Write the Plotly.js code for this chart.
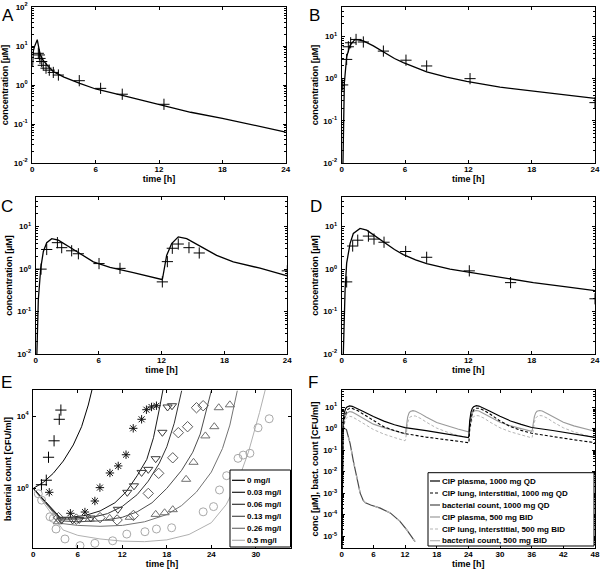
<!DOCTYPE html>
<html><head><meta charset="utf-8">
<script src="https://cdn.plot.ly/plotly-3.0.1.min.js"></script>
<style>html,body{margin:0;padding:0;background:#fff}#chart{width:602px;height:569px}</style>
</head><body><div id="chart"></div>
<script>
// ---------------- DATA ----------------
// Panel A: concentration [µM] vs time [h]
const aLineT = [0.02,0.1,0.2,0.35,0.47,0.6,0.75,1.0,1.5,2,3,4.5,6,9,12,15,18,21,24];
const aLineC = [3.0,7.5,9.5,12.5,14.5,9.5,6.0,4.4,3.0,2.2,1.6,1.1,0.79,0.5,0.31,0.2,0.14,0.095,0.062];
const aObsT = [0.57,0.67,0.73,0.89,1.04,1.30,1.61,1.99,2.47,4.45,6.47,8.52,12.47];
const aObsC = [6.5,5.9,4.8,4.0,3.2,2.7,2.4,2.1,1.8,1.29,0.82,0.58,0.32];
// Panel B
const bLineT = [0.1,0.18,0.25,0.47,0.79,1.26,2.05,3.0,3.95,5.0,5.84,7.0,8.05,9.95,11.84,15,18.2,21.3,24];
const bLineC = [0.005,0.05,0.78,3.3,6.2,8.5,7.9,6.0,4.4,3.0,2.4,1.8,1.45,1.08,0.86,0.63,0.5,0.41,0.34];
const bObsT = [0.09,0.47,0.63,0.85,1.36,2.05,3.95,6.09,8.05,12.16,24];
const bObsC = [0.71,2.86,5.7,7.1,8.5,7.4,4.5,2.74,2.0,1.0,0.27];
// Panel C
const cLineT = [0.08,0.1,0.25,0.48,0.73,1.05,1.53,2.16,2.96,3.91,5.5,7.09,9.31,12.02,12.1,12.2,12.49,12.97,13.6,14.4,15.67,17.26,18.85,21.4,24];
const cLineC = [0.005,0.01,0.19,1.05,2.6,4.2,5.2,4.8,3.7,2.6,1.48,1.1,0.83,0.57,0.6,0.8,2.1,4.0,5.75,5.2,3.5,2.1,1.48,1.05,0.69];
const cObsT = [0.51,1.05,2.07,2.48,3.43,4.07,6.04,8.04,12.08,12.56,13.03,13.6,14.62,15.6,24];
const cObsC = [1.0,2.9,4.2,3.2,2.7,2.3,1.35,1.04,0.50,1.5,3.1,3.9,3.2,2.4,0.91];
// Panel D
const dLineT = [0.12,0.25,0.32,0.47,0.79,1.1,1.74,2.37,3.3,4.26,5.0,5.84,7.0,8.05,10.26,12.16,15,18.16,21.3,24];
const dLineC = [0.005,0.1,0.32,1.38,3.98,6.9,9.1,8.3,5.75,3.9,2.9,2.2,1.65,1.35,1.0,0.84,0.65,0.48,0.38,0.31];
const dObsT = [0.47,1.04,1.52,2.53,3.06,4.01,6.06,8.05,12.09,16.0,24];
const dObsC = [0.5,3.5,4.8,6.0,5.1,4.3,2.6,1.9,0.91,0.48,0.20];

// Panel E: log10 bacterial count (relative) vs time [h]
const eConcLabels = ['0 mg/l','0.03 mg/l','0.06 mg/l','0.13 mg/l','0.26 mg/l','0.5 mg/l'];
const e0T = [0,1.35,2.69,4.04,5.39,6.51,7.41,7.86,8.3];
const e0L = [0,0.33,0.83,1.51,2.40,3.41,4.61,5.44,6.1];
const e003T = [0,3.6,5,7,9,11,12.5,14,15.3,16.2,17,17.5];
const e003L = [0,-1.6,-1.6,-1.5,-1.25,-0.8,-0.2,0.7,1.6,2.8,4.4,5.5];
const e006T = [0,3.7,6,8,10,12,14,15.5,17,18,19,20];
const e006L = [0,-1.7,-1.7,-1.6,-1.4,-1.0,-0.35,0.4,1.4,2.3,3.6,5.4];
const e013T = [0,3.8,6,9,12,14,16,18,20,21.5,22.5,23.3,24];
const e013L = [0,-1.8,-1.85,-1.8,-1.6,-1.3,-0.8,0.0,1.0,2.0,3.0,4.2,5.4];
const e026T = [0,3.9,6,9,12,15,18,20,22,24,25.5,26.5,27.5];
const e026L = [0,-1.95,-2.05,-2.1,-2.05,-1.85,-1.45,-0.95,-0.2,0.9,2.2,3.5,5.4];
const e05T = [0,4,6,9,12,15,18,21,24,26,27.5,29,30.5,31.3];
const e05L = [0,-2.3,-2.6,-2.8,-2.92,-2.95,-2.85,-2.55,-1.9,-0.9,0.3,2.0,4.2,5.5];
const ePlusT = [1.1,1.75,2.05,2.8,3.5,3.72];
const ePlusL = [0.2,0.45,1.72,2.63,3.82,4.33];
const eStarT = [2.15,5.0,6.96,8.3,8.98,10.33,11.45,12.5,13.47,14.6,15.25,15.94,16.6];
const eStarL = [-0.22,-1.38,-1.31,-0.70,0.04,0.85,1.24,1.86,3.32,3.82,4.35,4.5,4.57];
const eTdT = [3.8,5.3,6.2,7.75,11.4,12.67,13.57,14.6,15.5,16.5,17.4,18.1,18.7];
const eTdL = [-1.75,-1.75,-1.72,-1.64,-1.16,-0.22,0.14,0.88,1.05,1.64,3.1,4.5,4.57];
const eDiT = [3.4,5.8,9.0,11.3,13.5,15.5,16.9,18.8,19.55,20.8,22.0,22.9];
const eDiL = [-1.62,-1.7,-1.62,-1.75,-1.5,-0.28,0.83,1.69,3.08,3.41,4.46,4.57];
const eTuT = [3.3,7.6,10.3,13.0,16.5,17.7,18.8,20.6,21.6,23.2,24.4,25.0,26.5];
const eTuL = [-1.85,-1.7,-1.66,-1.6,-1.44,-1.35,-1.18,0.5,1.44,2.9,3.41,4.46,4.62];
const eCiT = [0.67,1.12,2.25,2.7,3.06,4.27,6.3,8.3,10.7,12.6,15.05,16.6,18.65,22.9,24.3,25.1,26.06,27.6,28.3,29.2,30.3,31.8];
const eCiL = [-0.3,-0.65,-1.57,-1.66,-2.25,-2.8,-3.17,-3.04,-2.9,-2.53,-2.4,-2.25,-2.18,-1.3,-1.01,-0.09,0.70,1.66,1.84,1.94,3.35,3.85];

// Panel F
const fLabels = ['CIP plasma, 1000 mg QD','CIP lung, interstitial, 1000 mg QD','bacterial count, 1000 mg QD','CIP plasma, 500 mg BID','CIP lung, interstitial, 500 mg BID','bacterial count, 500 mg BID'];
const fQdT = [0,0.1,0.25,0.5,0.75,1,1.5,2,3,4,6,8,10,12,16,20,24,24.1,24.25,24.5,24.75,25,25.5,26,27,28,30,32,34,36,40,44,48];
const fQdPlasma = [1e-7,0.3,2.0,5.5,8.5,10,11.2,10.8,8.6,6.3,3.6,2.2,1.5,1.1,0.8,0.55,0.38,0.45,2.2,5.8,8.8,10.3,11.5,11.1,8.8,6.5,3.7,2.25,1.55,1.12,0.81,0.56,0.39];
const fQdLung = [1e-7,0.05,0.8,3.0,5.5,7.2,8.7,8.6,6.8,4.8,2.2,1.2,0.8,0.58,0.4,0.29,0.21,0.22,0.9,3.1,5.6,7.3,8.8,8.7,6.9,4.9,2.25,1.22,0.82,0.6,0.41,0.3,0.22];
const fBidT = [0,0.1,0.25,0.5,0.75,1,1.5,2,3,4,6,8,10,12,12.1,12.25,12.5,12.75,13,13.5,14,15,16,18,20,22,24,24.1,24.25,24.5,24.75,25,25.5,26,27,28,30,32,34,36,36.1,36.25,36.5,36.75,37,37.5,38,39,40,42,44,46,48];
const fBidPlasma = [1e-7,0.15,1.0,2.8,4.3,5.2,6.2,5.8,4.3,3.0,1.6,1.1,0.8,0.57,0.65,1.5,3.4,5.2,6.2,6.8,6.4,4.8,3.4,1.9,1.3,0.95,0.7,0.78,1.6,3.5,5.3,6.3,6.9,6.5,4.9,3.5,1.95,1.33,0.98,0.74,0.82,1.6,3.5,5.3,6.3,6.9,6.5,4.9,3.5,1.95,1.33,0.99,0.75];
const fBidLung = [1e-7,0.03,0.4,1.6,2.7,3.3,3.7,3.5,2.6,1.8,0.9,0.55,0.38,0.27,0.29,0.7,1.8,2.9,3.5,3.9,3.8,2.9,2.0,1.05,0.68,0.48,0.35,0.37,0.75,1.9,3.0,3.6,4.0,3.9,3.0,2.05,1.08,0.7,0.5,0.37,0.39,0.76,1.9,3.0,3.6,4.0,3.9,3.0,2.05,1.08,0.7,0.5,0.37];
const fBactQdT = [0,0.5,0.9,1.2,1.6,2.2,2.8,3.5,4.1,4.5,5.5,7.3,9.2,11,12.3,13.9];
const fBactQdL = [0.0,0.01,-0.05,-0.3,-0.7,-1.5,-2.25,-3.0,-3.35,-3.45,-3.55,-3.7,-3.92,-4.3,-4.7,-5.25];
const fBactBidT = [0,0.5,0.9,1.2,1.6,2.2,2.8,3.5,4.1,4.5,5.5,7.3,9.2,11,12.3,13.9];
const fBactBidL = [0.0,0.01,-0.05,-0.3,-0.7,-1.5,-2.25,-3.0,-3.35,-3.45,-3.55,-3.7,-3.92,-4.3,-4.7,-5.25];

// -------------- helpers ---------------
const W = 602, H = 569;
const pow10 = a => a.map(v => Math.pow(10, v));
const xd = (a, b) => [a / W, b / W];
const yd = (t, b) => [1 - b / H, 1 - t / H];
const FONT = 'Liberation Sans, Arial, sans-serif';
const tickFont = {family: FONT, size: 8, color: '#000', weight: 'bold'};
const titleFont = {family: FONT, size: 9, color: '#000', weight: 'bold'};
const sup = e => '10<sup>' + e + '</sup>';
// minor log tick positions (2..9 x each decade) for axis styling
function minorVals(lo, hi) {
  const v = [];
  for (let e = lo; e < hi; e++) for (let d = 2; d <= 9; d++) v.push(d * Math.pow(10, e));
  return v;
}

function xaxis(dom, anchor, range, tv, standoff) {
  return {domain: dom, anchor: anchor, range: range, tickvals: tv, ticktext: tv.map(String),
    showline: true, mirror: 'ticks', linecolor: '#000', linewidth: 1, ticks: 'inside', ticklen: 3,
    tickcolor: '#000', showgrid: false, zeroline: false, tickfont: tickFont, ticklabelstandoff: -2,
    title: {text: 'time [h]', font: titleFont, standoff: standoff}};
}
function yaxis(dom, anchor, range, exps, title, standoff, minorRange) {
  const ax = {domain: dom, anchor: anchor, type: 'log', range: range,
    tickvals: exps.map(e => Math.pow(10, e)), ticktext: exps.map(sup),
    showline: true, mirror: 'ticks', linecolor: '#000', linewidth: 1, ticks: 'inside', ticklen: 3,
    tickcolor: '#000', showgrid: false, zeroline: false, tickfont: tickFont, ticklabelstandoff: 2,
    title: {text: title, font: titleFont, standoff: standoff}};
  if (minorRange) ax.minor = {tickmode: 'array', tickvals: minorVals(minorRange[0], minorRange[1]),
    ticks: 'inside', ticklen: 2, tickcolor: '#000', showgrid: false};
  return ax;
}

const traces = [];
function line(x, y, xa, ya, color, width, dash) {
  traces.push({type: 'scatter', mode: 'lines', x: x, y: y, xaxis: xa, yaxis: ya,
    line: {color: color, width: width || 1.2, dash: dash || 'solid'}, showlegend: false, hoverinfo: 'skip'});
}
function pts(x, y, xa, ya, symbol, color, size) {
  traces.push({type: 'scatter', mode: 'markers', x: x, y: y, xaxis: xa, yaxis: ya,
    marker: {symbol: symbol, size: size || 8, color: color, line: {color: color, width: 1}},
    showlegend: false, hoverinfo: 'skip'});
}

// A-D
line(aLineT, aLineC, 'x', 'y', '#000', 1.3); pts(aObsT, aObsC, 'x', 'y', 'cross-thin-open', '#000', 8);
line(bLineT, bLineC, 'x2', 'y2', '#000', 1.3); pts(bObsT, bObsC, 'x2', 'y2', 'cross-thin-open', '#000', 8);
line(cLineT, cLineC, 'x3', 'y3', '#000', 1.3); pts(cObsT, cObsC, 'x3', 'y3', 'cross-thin-open', '#000', 8);
line(dLineT, dLineC, 'x4', 'y4', '#000', 1.3); pts(dObsT, dObsC, 'x4', 'y4', 'cross-thin-open', '#000', 8);

// E
const eColors = ['#000000', '#1a1a1a', '#333333', '#4d4d4d', '#737373', '#b0b0b0'];
line(e05T, pow10(e05L), 'x5', 'y5', eColors[5], 1);
line(e026T, pow10(e026L), 'x5', 'y5', eColors[4], 1);
line(e013T, pow10(e013L), 'x5', 'y5', eColors[3], 1);
line(e006T, pow10(e006L), 'x5', 'y5', eColors[2], 1);
line(e003T, pow10(e003L), 'x5', 'y5', eColors[1], 1);
line(e0T, pow10(e0L), 'x5', 'y5', eColors[0], 1);
pts(eCiT, pow10(eCiL), 'x5', 'y5', 'circle-open', '#a8a8a8', 8);
pts(eTuT, pow10(eTuL), 'x5', 'y5', 'triangle-up-open', '#6e6e6e', 8);
pts(eDiT, pow10(eDiL), 'x5', 'y5', 'diamond-open', '#5a5a5a', 8);
pts(eTdT, pow10(eTdL), 'x5', 'y5', 'triangle-down-open', '#3a3a3a', 8);
pts(eStarT, pow10(eStarL), 'x5', 'y5', 'asterisk-open', '#111', 7);
pts(ePlusT, pow10(ePlusL), 'x5', 'y5', 'cross-thin-open', '#000', 8);

// F
const fColors = ['#000000', '#000000', '#4a4a4a', '#9a9a9a', '#b5b5b5', '#b5b5b5'];
const fDash = ['solid', '3px,2px', 'solid', 'solid', '3px,2px', 'solid'];
line(fBidT, fBidLung, 'x6', 'y6', fColors[4], 1, '3px,2px');
line(fBidT, fBidPlasma, 'x6', 'y6', fColors[3], 1.1);
line(fQdT, fQdLung, 'x6', 'y6', fColors[1], 1.1, '3px,2px');
line(fQdT, fQdPlasma, 'x6', 'y6', fColors[0], 1.2);
line(fBactQdT, pow10(fBactQdL), 'x6', 'y6', fColors[2], 1.2);
line(fBactBidT, pow10(fBactBidL), 'x6', 'y6', fColors[5], 1.3, '4px,9px');

// -------------- layout ---------------
const layout = {
  width: W, height: H, margin: {l: 0, r: 0, t: 0, b: 0},
  paper_bgcolor: '#fff', plot_bgcolor: '#fff', showlegend: false,
  font: {family: FONT, color: '#000'},
  xaxis: xaxis(xd(32.3, 285.7), 'y', [0, 24], [0, 6, 12, 18, 24], 3),
  yaxis: yaxis(yd(7, 163), 'x', [-2, 2], [-2, -1, 0, 1, 2], 'concentration [µM]', 3, [-2, 2]),
  xaxis2: xaxis(xd(341.7, 595), 'y2', [0, 24], [0, 6, 12, 18, 24], 3),
  yaxis2: yaxis(yd(7, 163), 'x2', [-2, Math.log10(50)], [-2, -1, 0, 1], 'concentration [µM]', 3, [-2, 2]),
  xaxis3: xaxis(xd(35.7, 287.3), 'y3', [0, 24], [0, 6, 12, 18, 24], 3),
  yaxis3: yaxis(yd(197, 354), 'x3', [-2, Math.log10(50)], [-2, -1, 0, 1], 'concentration [µM]', 3, [-2, 2]),
  xaxis4: xaxis(xd(341.7, 595), 'y4', [0, 24], [0, 6, 12, 18, 24], 3),
  yaxis4: yaxis(yd(197, 354), 'x4', [-2, Math.log10(50)], [-2, -1, 0, 1], 'concentration [µM]', 3, [-2, 2]),
  xaxis5: xaxis(xd(33.3, 290.7), 'y5', [0, 34.7], [0, 6, 12, 18, 24, 30], 1),
  yaxis5: yaxis(yd(390, 548), 'x5', [-3.3, 5.44], [0, 4], 'bacterial count [CFU/ml]', 3, null),
  xaxis6: xaxis(xd(341.7, 595), 'y6', [0, 48], [0, 6, 12, 18, 24, 30, 36, 42, 48], 1),
  yaxis6: yaxis(yd(390, 548), 'x6', [-5.55, 1.79], [-5, -4, -3, -2, -1, 0, 1], 'conc [µM], bact. count [CFU/ml]', 3, [-6, 2]),
  annotations: [], shapes: []
};

// panel letters
const letters = [['A', 8, 15], ['B', 314, 15], ['C', 7, 206], ['D', 316, 206], ['E', 6, 382], ['F', 313, 382]];
letters.forEach(l => layout.annotations.push({text: l[0], xref: 'paper', yref: 'paper', x: l[1] / W, y: 1 - l[2] / H,
  xanchor: 'center', yanchor: 'middle', showarrow: false, font: {family: 'Liberation Sans, Arial, sans-serif', size: 17, color: '#000'}}));

// legends (drawn as shapes + text)
function legend(box, rowsY, lineX, textX, labels, colors, dashes) {
  layout.shapes.push({type: 'rect', xref: 'paper', yref: 'paper', x0: box[0] / W, x1: box[1] / W,
    y0: 1 - box[3] / H, y1: 1 - box[2] / H, line: {color: '#000', width: 1}, fillcolor: '#fff', layer: 'above'});
  labels.forEach((lab, i) => {
    layout.shapes.push({type: 'line', xref: 'paper', yref: 'paper', x0: lineX[0] / W, x1: lineX[1] / W,
      y0: 1 - rowsY[i] / H, y1: 1 - rowsY[i] / H, line: {color: colors[i], width: 1.2, dash: dashes[i]}, layer: 'above'});
    layout.annotations.push({text: lab, xref: 'paper', yref: 'paper', x: textX / W, y: 1 - rowsY[i] / H,
      xanchor: 'left', yanchor: 'middle', showarrow: false, font: {family: FONT, size: 8, color: '#000', weight: 'bold'}});
  });
}
legend([230, 290.5, 470, 547], [480.3, 492.3, 504.3, 516.3, 528.3, 540.3], [232, 245], 245, eConcLabels, eColors,
  ['solid', 'solid', 'solid', 'solid', 'solid', 'solid']);
legend([428, 594, 472.7, 546], [481, 493, 505, 517, 529, 540.7], [430, 440], 440, fLabels, fColors, fDash);

Plotly.newPlot('chart', traces, layout, {staticPlot: true, displayModeBar: false});
</script></body></html>
